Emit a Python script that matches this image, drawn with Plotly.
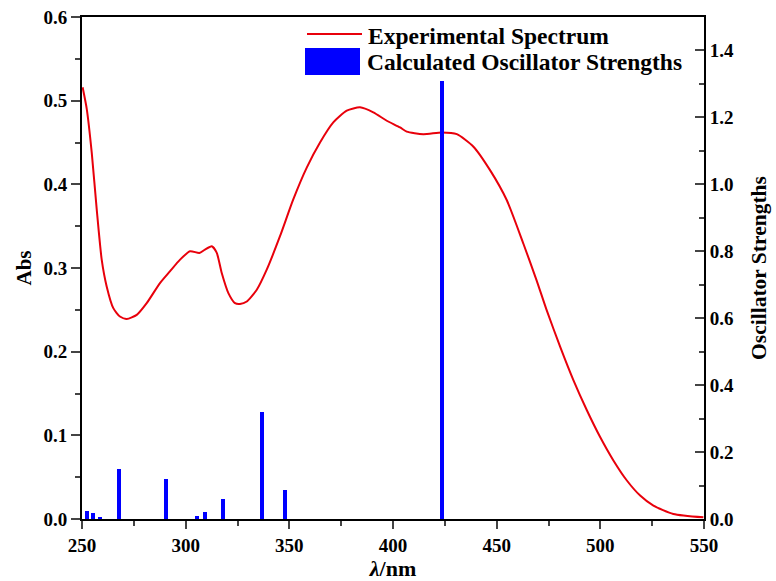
import plotly.graph_objects as go

# Experimental spectrum (wavelength nm, absorbance)
wl = [250.3, 252.3, 254.7, 257.1, 259.5, 261.9, 265.1, 268.3, 271.6, 276.4, 281.2, 287.6,
      292.4, 297.3, 302.1, 306.6, 309.3, 312.6, 315.0, 317.4, 320.6, 323.8, 326.2, 329.5,
      334.3, 339.1, 345.5, 351.9, 358.4, 364.8, 371.2, 377.7, 384.1, 390.5, 397.0, 403.4,
      406.6, 414.6, 423.5, 430.8, 438.8, 446.8, 454.9, 462.9, 469.3, 474.2, 480.6, 487.0,
      493.5, 499.9, 506.3, 512.8, 519.2, 525.6, 535.2, 549.7]
absorb = [0.516, 0.49, 0.438, 0.37, 0.31, 0.278, 0.252, 0.242, 0.239, 0.244, 0.258, 0.282,
          0.296, 0.31, 0.32, 0.318, 0.322, 0.326, 0.318, 0.294, 0.27, 0.258, 0.257, 0.26,
          0.274, 0.298, 0.338, 0.382, 0.42, 0.45, 0.474, 0.488, 0.492, 0.486, 0.476, 0.468,
          0.463, 0.460, 0.462, 0.460, 0.445, 0.417, 0.381, 0.329, 0.285, 0.249, 0.206, 0.166,
          0.130, 0.098, 0.070, 0.046, 0.028, 0.016, 0.006, 0.002]

# Calculated oscillator strengths
osc_wl = [252.3, 255.5, 258.8, 267.8, 290.5, 305.3, 309.2, 318.0, 337.0, 347.8, 423.8]
osc_f = [0.025, 0.018, 0.005, 0.148, 0.121, 0.009, 0.022, 0.061, 0.32, 0.086, 1.31]

x_ticks = [250, 300, 350, 400, 450, 500, 550]
y_ticks = [0.0, 0.1, 0.2, 0.3, 0.4, 0.5, 0.6]
y2_ticks = [0.0, 0.2, 0.4, 0.6, 0.8, 1.0, 1.2, 1.4]

FONT = "Liberation Serif"
tickfont = dict(family=FONT, size=19, color="black", weight="bold")

fig = go.Figure()
fig.add_trace(go.Bar(x=osc_wl, y=osc_f, width=1.9, marker=dict(color="#0000ff", line=dict(width=0)),
                     yaxis="y2", showlegend=False))
fig.add_trace(go.Scatter(x=wl, y=absorb, mode="lines",
                         line=dict(color="#e8000b", width=2, shape="spline", smoothing=0.6),
                         showlegend=False))

L, R, T, B = 82, 72, 17, 62
fig.update_layout(
    width=776, height=581,
    margin=dict(l=L, r=R, t=T, b=B, autoexpand=False),
    paper_bgcolor="white", plot_bgcolor="white",
    xaxis=dict(range=[250, 550], tickvals=x_ticks, ticks="outside", ticklen=8, tickwidth=2,
               showline=True, linecolor="black", linewidth=2, mirror=True, showgrid=False, zeroline=False,
               tickfont=tickfont, automargin=False,
               minor=dict(dtick=25, ticks="outside", ticklen=5, tickwidth=2, tick0=250),
               title=dict(text="<i>λ</i>/nm", font=dict(family=FONT, size=22, color="black", weight="bold"),
                          standoff=2)),
    yaxis=dict(range=[0, 0.6], tickvals=y_ticks, tickformat=".1f", ticks="outside", ticklen=9, tickwidth=2,
               showline=True, linecolor="black", linewidth=2, showgrid=False, zeroline=False,
               tickfont=tickfont, automargin=False,
               minor=dict(dtick=0.05, ticks="outside", ticklen=5, tickwidth=2),
               title=dict(text="Abs", font=dict(family=FONT, size=21, color="black", weight="bold"),
                          standoff=6)),
    yaxis2=dict(range=[0, 1.5], tickvals=y2_ticks, tickformat=".1f", overlaying="y", side="right",
                ticks="inside", ticklen=9, tickwidth=2,
                showline=True, linecolor="black", linewidth=2, showgrid=False, zeroline=False,
                tickfont=tickfont, automargin=False,
                minor=dict(dtick=0.1, ticks="inside", ticklen=5, tickwidth=2),
                title=dict(text="Oscillator Strengths", font=dict(family=FONT, size=21.5, color="black", weight="bold"),
                           standoff=18)),
    bargap=0,
)

# Custom legend in paper coordinates
def px2x(px):
    return (px - L) / (776 - L - R)

def py2y(py):
    return 1 - (py - T) / (581 - T - B)

fig.add_shape(type="line", xref="paper", yref="paper", x0=px2x(307), x1=px2x(362), y0=py2y(34), y1=py2y(34),
              line=dict(color="#e8000b", width=2))
fig.add_shape(type="rect", xref="paper", yref="paper", x0=px2x(305), x1=px2x(360), y0=py2y(48), y1=py2y(75),
              line=dict(width=0), fillcolor="#0000ff")
legfont = dict(family=FONT, size=23.5, color="black", weight="bold")
fig.add_annotation(xref="paper", yref="paper", x=px2x(366), y=py2y(36), text="Experimental Spectrum",
                   showarrow=False, xanchor="left", yanchor="middle", font=legfont)
fig.add_annotation(xref="paper", yref="paper", x=px2x(365), y=py2y(62), text="Calculated Oscillator Strengths",
                   showarrow=False, xanchor="left", yanchor="middle", font=legfont)

fig.write_html("out.html", config={"displayModeBar": False},
               post_script="document.body.style.margin='0';")
